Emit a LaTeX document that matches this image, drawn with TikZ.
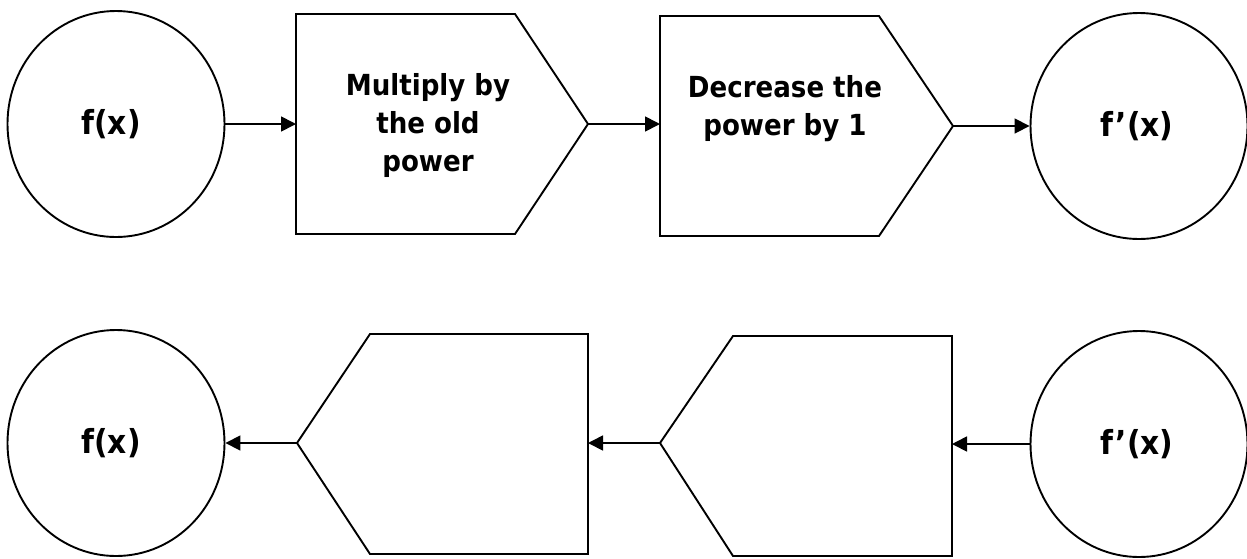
\documentclass[tikz,border=0pt]{standalone}
\usepackage{fontspec}
\setmainfont{DejaVu Sans Condensed}
\usetikzlibrary{arrows.meta,shapes.geometric}
\begin{document}
\begin{tikzpicture}[x=1pt,y=-1pt,
  line width=1.9pt,
  term/.style={draw, ellipse, inner sep=0pt, minimum width=217pt, minimum height=226pt,
    font=\bfseries\fontsize{33}{38}\selectfont},
  label/.style={align=center, font=\bfseries\fontsize{29}{38}\selectfont},
  flow/.style={-{Triangle[length=15pt,width=15pt]}, line width=1.7pt}]
\useasboundingbox (0,0) rectangle (1247,558);

% top row: differentiation steps
\node[term] (fx1) at (116,124) {f(x)\hspace*{10pt}};
\draw (296,14) -- (515,14) -- (588,124) coordinate (s1tip) -- (515,234) -- (296,234) -- cycle;
\coordinate (s1in) at (296,124);
\node[label] (s1) at (428,125) {Multiply by\\the old\\power};
\draw (660,16) -- (879,16) -- (953,126) coordinate (s2tip) -- (879,236) -- (660,236) -- cycle;
\coordinate (s2in) at (660,124);
\node[label] (s2) at (785,109) {Decrease the\\power by 1};
\node[term] (dfx1) at (1139,126) {f’(x)\hspace*{4pt}};

\draw[flow] (fx1.east) -- (s1in);
\draw[flow] (s1tip) -- (s2in);
\draw[flow] (s2tip) -- (dfx1.west);

% bottom row: reverse steps
\node[term] (fx2) at (116,443) {f(x)\hspace*{10pt}};
\draw (588,334) -- (370,334) -- (297,443) coordinate (r1tip) -- (370,554) -- (588,554) -- cycle;
\coordinate (r1in) at (588,443);
\draw (952,336) -- (733,336) -- (660,443) coordinate (r2tip) -- (733,556) -- (952,556) -- cycle;
\coordinate (r2in) at (952,444);
\node[term] (dfx2) at (1139,444) {f’(x)\hspace*{4pt}};

\draw[flow] (dfx2.west) -- (r2in);
\draw[flow] (r2tip) -- (r1in);
\draw[flow] (r1tip) -- (fx2.east);
\end{tikzpicture}
\end{document}
